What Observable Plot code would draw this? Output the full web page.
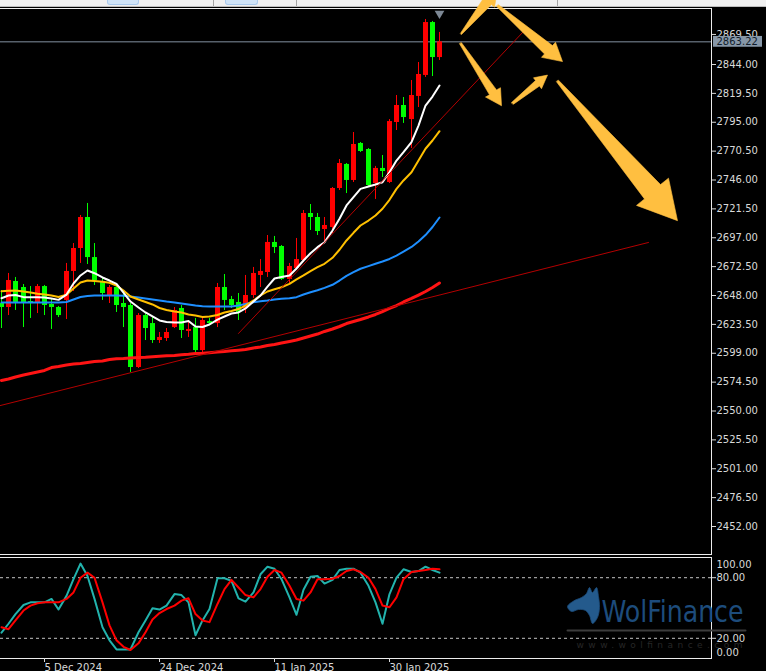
<!DOCTYPE html>
<html>
<head>
<meta charset="utf-8">
<script src="https://cdn.jsdelivr.net/npm/d3@7"></script>
<script src="https://cdn.jsdelivr.net/npm/@observablehq/plot@0.6"></script>
<style>
html,body{margin:0;padding:0;background:#000;width:766px;height:671px;overflow:hidden;}
#bar{position:relative;height:6px;background:#f0f0f0;border-bottom:1px solid #bdbdbd;}
#bar .tab{position:absolute;top:0;height:4px;background:#cfe3f7;border:1px solid #a9c9ec;border-top:none;border-radius:0 0 3px 3px;}
#bar .sep{position:absolute;top:0;width:1px;height:6px;background:#a4a4a4;}
#main,#sub{position:relative;}
</style>
</head>
<body>
<div id="bar">
  <div class="tab" style="left:107px;width:30px"></div>
  <div class="sep" style="left:213px"></div>
  <div class="tab" style="left:225px;width:31px"></div>
  <div class="sep" style="left:296px"></div>
  <div class="sep" style="left:557px"></div>
</div>
<div id="main"></div>
<div id="sub"></div>
<script>
// ---------------- data ----------------
const open  = [2641.2,2637.8,2659.9,2654.8,2642.9,2641.2,2655.6,2640.4,2637.8,2643.8,2668.4,2687.9,2714.2,2680.2,2659.9,2648.0,2654.8,2641.2,2639.5,2586.9,2631.0,2624.2,2609.8,2611.5,2620.8,2637.0,2617.5,2620.8,2601.3,2625.9,2624.2,2654.8,2644.6,2642.1,2637.0,2648.0,2665.0,2667.5,2693.0,2689.6,2661.6,2670.9,2677.7,2717.6,2714.2,2704.0,2705.7,2738.8,2759.2,2745.6,2777.0,2771.9,2743.0,2755.8,2743.9,2794.8,2809.2,2797.3,2816.9,2834.7,2879.6,2849.9];
const high  = [2652.2,2666.7,2663.3,2657.3,2655.6,2657.3,2656.5,2644.6,2638.7,2675.2,2692.1,2715.9,2726.1,2692.1,2662.4,2656.5,2656.5,2652.2,2641.2,2632.7,2632.7,2629.3,2616.6,2620.0,2637.8,2639.5,2626.8,2628.5,2628.5,2628.5,2658.2,2665.8,2647.2,2649.7,2665.0,2671.8,2678.5,2698.9,2698.1,2690.4,2675.2,2696.4,2720.1,2725.2,2717.6,2714.2,2739.6,2763.4,2760.0,2786.3,2777.8,2772.7,2757.5,2766.8,2797.3,2817.7,2816.0,2830.4,2845.7,2882.2,2880.5,2871.2];
const low   = [2620.0,2631.0,2635.3,2620.8,2628.5,2632.7,2631.0,2619.2,2629.3,2627.6,2651.4,2675.2,2674.3,2656.5,2643.8,2641.2,2633.6,2620.8,2582.7,2586.1,2609.8,2607.3,2607.3,2609.0,2620.0,2611.5,2612.4,2598.8,2597.1,2622.5,2620.8,2635.3,2637.0,2626.8,2632.7,2645.5,2654.8,2663.3,2683.6,2660.7,2658.2,2669.2,2676.0,2703.2,2698.9,2692.1,2700.6,2737.1,2734.5,2743.9,2769.3,2740.5,2729.5,2748.1,2743.0,2788.0,2794.0,2772.7,2807.5,2833.0,2833.8,2847.4];
const close = [2637.8,2660.7,2642.1,2642.1,2641.2,2655.6,2639.5,2637.8,2631.0,2668.4,2687.9,2714.2,2680.2,2660.7,2649.7,2654.8,2639.5,2637.8,2586.9,2631.0,2620.0,2609.8,2612.4,2616.6,2635.3,2618.3,2619.2,2601.3,2626.8,2624.2,2654.8,2643.8,2639.5,2633.6,2648.0,2666.7,2668.4,2693.0,2688.7,2661.6,2672.6,2678.5,2717.6,2714.2,2702.3,2707.4,2738.8,2760.0,2745.6,2776.1,2770.2,2741.3,2755.8,2753.2,2795.6,2809.2,2799.0,2817.7,2835.5,2879.6,2849.9,2863.22];

const maFast = [2645.7,2648.0,2648.4,2646.6,2646.6,2646.6,2646.3,2645.5,2644.3,2648.8,2658.2,2665.0,2669.2,2666.9,2663.3,2660.7,2657.8,2650.5,2642.9,2637.8,2633.6,2630.2,2626.8,2625.5,2625.1,2625.1,2626.4,2621.7,2621.3,2623.4,2627.6,2630.2,2632.7,2633.6,2637.0,2642.9,2648.0,2655.6,2662.4,2663.7,2665.0,2670.9,2677.7,2683.9,2689.0,2693.2,2703.2,2713.1,2724.4,2731.4,2738.5,2740.5,2742.2,2744.1,2752.6,2762.5,2769.6,2778.1,2792.2,2809.2,2816.8,2826.2];
const maMid  = [2651.6,2652.0,2652.2,2651.4,2650.5,2649.4,2648.8,2648.0,2646.7,2648.6,2653.9,2659.0,2660.7,2660.3,2659.6,2658.8,2656.5,2652.2,2647.2,2644.6,2642.5,2640.4,2637.4,2635.7,2634.4,2633.6,2631.9,2631.0,2629.8,2630.2,2631.5,2633.6,2634.8,2636.5,2639.5,2643.8,2648.0,2651.4,2653.3,2655.0,2657.9,2661.6,2665.0,2668.6,2672.0,2674.9,2680.0,2686.8,2694.7,2701.2,2707.4,2711.6,2715.9,2721.6,2729.2,2738.5,2745.6,2752.6,2762.5,2772.5,2779.5,2787.4];
const maSlow = [2642.1,2642.1,2642.1,2642.1,2642.1,2642.1,2642.1,2642.1,2642.1,2642.5,2644.6,2646.7,2647.6,2648.0,2648.0,2648.0,2648.0,2647.7,2647.2,2646.3,2645.5,2644.6,2643.8,2642.9,2642.1,2641.2,2640.4,2639.5,2638.9,2638.7,2638.7,2638.7,2638.7,2639.5,2640.8,2642.3,2643.2,2643.8,2644.6,2645.2,2645.7,2646.6,2648.8,2650.8,2652.5,2654.5,2657.1,2660.7,2664.7,2667.8,2670.7,2672.9,2674.9,2676.8,2679.0,2681.9,2685.3,2689.2,2693.8,2699.3,2706.1,2714.2];
const maLong = [2575.9,2577.1,2578.8,2580.5,2581.8,2583.1,2584.4,2586.9,2587.8,2589.0,2589.9,2590.3,2591.2,2592.0,2592.4,2593.7,2594.3,2594.5,2595.0,2595.4,2595.6,2596.0,2596.4,2596.8,2597.1,2597.7,2598.1,2598.8,2599.0,2599.5,2600.1,2600.5,2601.1,2601.6,2602.2,2603.5,2604.3,2605.6,2606.4,2607.7,2609.0,2610.2,2611.9,2613.6,2615.3,2617.5,2619.6,2621.7,2624.2,2625.9,2627.6,2629.8,2631.9,2634.4,2637.0,2639.5,2642.5,2645.5,2648.4,2651.4,2654.8,2658.6];

const stochMain   = [25.6,34.4,44,53,55.6,55.6,55.6,59,48.5,62,78.5,94,81.7,59,31,18,9,9,9,26,37.7,49.8,48.5,52.4,63.8,62.8,55.6,23,37.7,49,79.5,79.5,76.8,59.6,56.3,65.4,83.4,90.9,88.9,78.5,60.5,43.3,68,81,81.7,74.2,77.8,87.6,88.9,88.9,85,72,55.6,34.4,63.8,80,88.3,85.6,86.6,90.9,87.6,85];
const stochSignal = [31,29,37.7,47.5,52.4,54.7,55.6,55.6,55.6,59,65.4,80,85,80,55.6,32.8,18,11.6,8.4,15,26,38.7,45,49,52.4,57.3,59.6,44,37.7,36,54,68.7,77.8,70.3,62.8,60.5,68.7,81,87.6,85,72,59,57.3,65.4,78.5,78.5,79,81.7,86.6,88.3,85.6,80,68.7,52.4,50.7,60.5,78.5,85.6,86.6,87.6,88.9,88.3];

const priceTicks = [2452,2476.5,2501,2525.5,2550,2574.5,2599,2623.5,2648,2672.5,2697,2721.5,2746,2770.5,2795,2819.5,2844,2869.5];
const currentPrice = 2863.22;
const stochLevels = [80, 20];
const stochTop = [100];
const stochBottom = [0];
const dateTickIndex = [6, 22, 38, 54];
const dateTickLabels = ["5 Dec 2024", "24 Dec 2024", "11 Jan 2025", "30 Jan 2025"];

// trend lines (bar index, price)
const trendStart = [[-1, 2553.4], [33, 2615.8]];
const trendEnd   = [[90, 2693.0], [72.6, 2872.0]];

// hand-drawn arrows (bar index, price)
const arrowTail = [[63.9, 2870], [69.0, 2894], [63.9, 2862], [71.1, 2811], [77.4, 2830]];
const arrowTip  = [[69.0, 2908], [78.0, 2846.5], [69.6, 2809], [76.0, 2835], [94.0, 2711.5]];

const logoName = "WolFinance";
const logoSite = "www.wolfinance.com";

// ---------------- styles / geometry ----------------
const UP = "#ff0000", DOWN = "#00ff00";
const FONT = "'DejaVu Sans', sans-serif";
const AXIS = "#d9d9d9";
const arrowSize = [[16, 9, 5, 1], [18, 10, 5.5, 1], [16, 8.5, 4.5, 1], [13, 7, 3.5, 1], [38, 21, 11, 1.2]]; // head length, head half-width, shaft half-width, tail half-width (px)

const xDom = [-1 / 7.1875, 710 / 7.1875];
const xRange = [0, 711];
const yDom = [2452, 2869.5];
const yRange = [519, 519 - (2869.5 - 2452) * 462 / 392];
const kx = (xRange[1] - xRange[0]) / (xDom[1] - xDom[0]);
const ky = (yRange[0] - yRange[1]) / (yDom[1] - yDom[0]);

const idx = d3.range(open.length);
const up = idx.filter(i => close[i] >= open[i]);
const dn = idx.filter(i => close[i] < open[i]);
const minBody = 1.5 / ky;
const bLo = i => Math.min(open[i], close[i]);
const bHi = i => Math.max(Math.max(open[i], close[i]), Math.min(open[i], close[i]) + minBody);

const trendPts = trendStart.flatMap((s, k) => [{id: k, x: s[0], y: s[1]}, {id: k, x: trendEnd[k][0], y: trendEnd[k][1]}]);

function arrowPolygon(tail, tip, size, id) {
  const [hl, hw, sw, tw] = size;
  const dx = (tip[0] - tail[0]) * kx, dy = -(tip[1] - tail[1]) * ky;
  const L = Math.hypot(dx, dy), ux = dx / L, uy = dy / L, nx = -uy, ny = ux;
  const b = L - hl;
  const pts = [
    [nx * tw, ny * tw],
    [ux * b + nx * sw, uy * b + ny * sw],
    [ux * b + nx * hw, uy * b + ny * hw],
    [ux * L, uy * L],
    [ux * b - nx * hw, uy * b - ny * hw],
    [ux * b - nx * sw, uy * b - ny * sw],
    [-nx * tw, -ny * tw]
  ];
  return pts.map(([ox, oy]) => ({id, x: tail[0] + ox / kx, y: tail[1] - oy / ky}));
}
const arrowPts = arrowTail.flatMap((t, k) => arrowPolygon(t, arrowTip[k], arrowSize[k], k));

const lastIndex = idx[idx.length - 1];

// ---------------- main panel ----------------
const main = Plot.plot({
  width: 766, height: 549,
  marginLeft: 0, marginRight: 55, marginTop: 1, marginBottom: 2,
  style: {background: "#000", color: AXIS, fontFamily: FONT, fontSize: "10px", overflow: "visible"},
  x: {type: "linear", domain: xDom, range: xRange, round: true, axis: null},
  y: {type: "linear", domain: yDom, range: yRange},
  marks: [
    Plot.ruleY([currentPrice], {stroke: "#57606b", strokeWidth: 1.5, clip: true}),
    Plot.ruleX(up, {x: i => i, y1: i => low[i], y2: i => high[i], stroke: UP, strokeWidth: 1, clip: true}),
    Plot.ruleX(dn, {x: i => i, y1: i => low[i], y2: i => high[i], stroke: DOWN, strokeWidth: 1, clip: true}),
    Plot.ruleX(up, {x: i => i, y1: bLo, y2: bHi, stroke: UP, strokeWidth: 5, strokeLinecap: "butt", clip: true}),
    Plot.ruleX(dn, {x: i => i, y1: bLo, y2: bHi, stroke: DOWN, strokeWidth: 5, strokeLinecap: "butt", clip: true}),
    Plot.line(idx, {x: i => i, y: i => maLong[i], stroke: "#ff1414", strokeWidth: 3, clip: true}),
    Plot.line(idx, {x: i => i, y: i => maSlow[i], stroke: "#1e8fff", strokeWidth: 2, clip: true}),
    Plot.line(idx, {x: i => i, y: i => maMid[i], stroke: "#ffc000", strokeWidth: 2, clip: true}),
    Plot.line(idx, {x: i => i, y: i => maFast[i], stroke: "#ffffff", strokeWidth: 2, clip: true}),
    Plot.line(trendPts, {x: "x", y: "y", z: "id", stroke: "#b30000", strokeWidth: 1, clip: true}),
    Plot.dot([lastIndex], {x: d => d, frameAnchor: "top", symbol: "triangle", r: 3.6, rotate: 180, dy: 5, fill: "#7d8895", stroke: "none"}),
    Plot.frame({anchor: "top", stroke: "#ececec"}),
    Plot.frame({anchor: "right", stroke: "#ececec"}),
    Plot.frame({anchor: "bottom", stroke: "#ececec"}),
    Plot.axisY(priceTicks, {anchor: "right", label: null, tickSize: 4, tickPadding: 1, stroke: AXIS, fill: AXIS, tickFormat: d => d.toFixed(2), fontSize: 10}),
    Plot.rect([currentPrice], {x1: xDom[1] + 1.6 / kx, x2: xDom[1] + 50.5 / kx, y1: d => d - 5.4 / ky, y2: d => d + 5.4 / ky, fill: "#8797a8"}),
    Plot.text([currentPrice], {x: xDom[1], y: d => d, dx: 5, text: d => d.toFixed(2), textAnchor: "start", fill: "#101c2a", fontSize: 10}),
    Plot.line(arrowPts, {x: "x", y: "y", z: "id", fill: "#ffbf40", stroke: "#ffbf40", strokeWidth: 0.6, curve: "linear-closed"})
  ]
});
document.getElementById("main").append(main);

// ---------------- stochastic panel ----------------
const sxK = kx;
const syK = 101 / 100;
const toSub = (px, sy) => ({x: xDom[0] + px / sxK, y: (102 - sy) / syK});
const logoIconPx = [[567,50],[574,44],[581,41],[586,37],[589,31],[592,36],[596,31],[598,40],[599,51],[597,61],[592,67],[589,59],[585,54],[578,53],[571,55]];
const logoIcon = logoIconPx.map(([px, sy]) => toSub(px, sy));
const logoRule = [toSub(567, 74), toSub(745, 74)];

const sub = Plot.plot({
  width: 766, height: 115,
  marginLeft: 0, marginRight: 55, marginTop: 1, marginBottom: 13,
  style: {background: "#000", color: AXIS, fontFamily: FONT, fontSize: "10px", overflow: "visible"},
  x: {type: "linear", domain: xDom, range: xRange, round: true},
  y: {type: "linear", domain: [0, 100], range: [102, 1]},
  marks: [
    Plot.ruleY(stochLevels, {stroke: "#9c9c9c", strokeWidth: 1.3, strokeDasharray: "3,3"}),
    Plot.line(idx, {x: i => i, y: i => stochMain[i], stroke: "#22b3ad", strokeWidth: 2}),
    Plot.line(idx, {x: i => i, y: i => stochSignal[i], stroke: "#ff0000", strokeWidth: 2}),
    Plot.frame({anchor: "top", stroke: "#ececec"}),
    Plot.frame({anchor: "right", stroke: "#ececec"}),
    Plot.frame({anchor: "bottom", stroke: "#ececec"}),
    Plot.axisY(stochLevels, {anchor: "right", label: null, tickSize: 4, tickPadding: 1, stroke: AXIS, fill: AXIS, tickFormat: d => d.toFixed(2), fontSize: 10}),
    Plot.text(stochTop, {y: d => d, frameAnchor: "right", dx: 5, dy: 7, text: d => d.toFixed(2), textAnchor: "start", fill: AXIS, fontSize: 10}),
    Plot.text(stochBottom, {y: d => d, frameAnchor: "right", dx: 5, dy: -6, text: d => d.toFixed(2), textAnchor: "start", fill: AXIS, fontSize: 10}),
    Plot.axisX(dateTickIndex, {anchor: "bottom", label: null, tickSize: 4, tickPadding: 1, textAnchor: "start", stroke: AXIS, fill: AXIS, fontSize: 10,
      tickFormat: d => dateTickLabels[dateTickIndex.indexOf(d)]}),
    // watermark logo
    Plot.line(logoRule, {x: "x", y: "y", stroke: "#3c3c3c", strokeWidth: 2}),
    Plot.line(logoIcon, {x: "x", y: "y", fill: "#245a8c", stroke: "#1b4a78", strokeWidth: 0.8, curve: "catmull-rom-closed"}),
    Plot.text([logoName], {frameAnchor: "right", text: d => d, dx: -39, dy: 4, textAnchor: "middle", fontSize: 31, fill: "#1d4c7c",
      fontFamily: "'Liberation Sans Narrow', 'DejaVu Sans Condensed', 'Liberation Sans', sans-serif"}),
    Plot.text([logoSite], {frameAnchor: "right", text: d => d, dx: -52, dy: 37.5, textAnchor: "middle", fontSize: 9, fill: "#262626"})
  ]
});
document.getElementById("sub").append(sub);

d3.select(sub).selectAll("text").each(function () {
  const t = this.textContent;
  if (t === logoName) d3.select(this).attr("textLength", 142).attr("lengthAdjust", "spacingAndGlyphs");
  if (t === logoSite) d3.select(this).attr("textLength", 166).attr("lengthAdjust", "spacing");
});
</script>
</body>
</html>
